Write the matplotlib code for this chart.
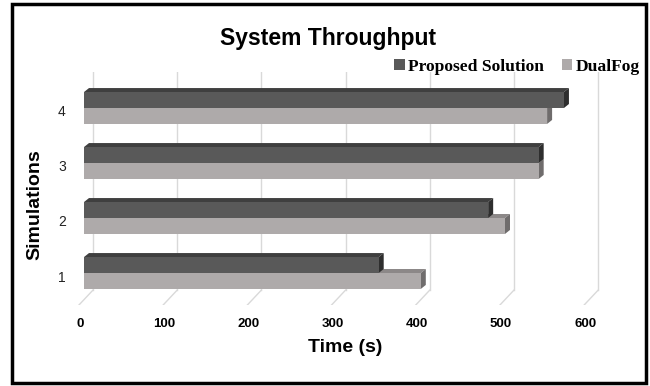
# -*- coding: utf-8 -*-

import numpy
import matplotlib
matplotlib.use('Agg')
import matplotlib.pyplot as plt
from matplotlib.patches import Polygon, Rectangle, Patch
from matplotlib.transforms import ScaledTranslation

# %% Dane
symulacje = [1, 2, 3, 4]
proposed = [350, 480, 540, 570]
dualfog = [400, 500, 540, 550]
ticki_x = [0, 100, 200, 300, 400, 500, 600]
etykiety = ['Proposed Solution', 'DualFog']

# kolory
c_ciemny = '#595959'
c_ciemny_gora = '#3f3f3f'
c_ciemny_bok = '#2e2e2e'
c_jasny = '#aeaaaa'
c_jasny_gora = '#8c8888'
c_jasny_bok = '#6f6c6c'
c_siatka = '#d9d9d9'

W, H = 650, 386
fig = plt.figure(figsize=(6.5, 3.86), dpi=100)

# skala osi: 0.842 px na jednostke czasu, 55 px na symulacje
sx, sy = 0.842, 55.0
xmin, xmax = -20, 640
ymin, ymax = 0.418, 4.655
left_px = 84 + xmin * sx
top_px = 108 - (ymax - 4) * sy
ax = fig.add_axes([left_px / W, 1 - (top_px + (ymax - ymin) * sy) / H,
                   (xmax - xmin) * sx / W, (ymax - ymin) * sy / H])
ax.set_xlim(xmin, xmax)
ax.set_ylim(ymin, ymax)
for s in ax.spines.values():
    s.set_visible(False)

# %% Siatka na tylnej scianie + linie podlogi
przes = 10.7        # przesuniecie tylnej sciany
podloga = 0.69
for t in ticki_x:
    ax.plot([t + przes, t + przes], [podloga, ymax], color=c_siatka, lw=1, zorder=0)
    ax.plot([t + przes, t - 6], [podloga, ymin], color=c_siatka, lw=1, zorder=0)

# %% Slupki 3D
h = 0.29
dx, dy = 5 / sx, 4 / sy

def slupek(y0, v, przod, gora, bok):
    ax.add_patch(Rectangle((0, y0), v, h, facecolor=przod, edgecolor='none', zorder=3))
    ax.add_patch(Polygon([(0, y0 + h), (v, y0 + h), (v + dx, y0 + h + dy), (dx, y0 + h + dy)],
                         closed=True, facecolor=gora, edgecolor='none', zorder=2))
    ax.add_patch(Polygon([(v, y0), (v + dx, y0 + dy), (v + dx, y0 + h + dy), (v, y0 + h)],
                         closed=True, facecolor=bok, edgecolor='none', zorder=2))

for y, p, d in zip(symulacje, proposed, dualfog):
    slupek(y - h, d, c_jasny, c_jasny_gora, c_jasny_bok)
    slupek(y, p, c_ciemny, c_ciemny_gora, c_ciemny_bok)

# %% Osie
ax.tick_params(length=0)
ax.set_xticks(ticki_x)
ax.set_xticklabels([str(t) for t in ticki_x], fontsize=9.5, fontweight='bold',
                   family='Liberation Sans')
ax.tick_params(axis='x', pad=9)
ax.set_yticks(symulacje)
ax.set_yticklabels([str(s) for s in symulacje], fontsize=10,
                   family='Liberation Sans', color='#222222')
ax.tick_params(axis='y', pad=1)
for lab in ax.get_xticklabels():
    lab.set_transform(lab.get_transform() + ScaledTranslation(-4 / 100, 0, fig.dpi_scale_trans))
for lab in ax.get_yticklabels():
    lab.set_transform(lab.get_transform() + ScaledTranslation(0, -3 / 100, fig.dpi_scale_trans))

fig.text(328 / W, 1 - 44.5 / H, 'System Throughput', ha='center', va='baseline',
         fontsize=16.5, fontweight='bold', family='Liberation Sans')
fig.text(35 / W, 1 - 205 / H, 'Simulations', ha='center', va='center', rotation=90,
         fontsize=14, fontweight='bold', family='Liberation Sans')
fig.text(345 / W, 1 - 348 / H, 'Time (s)', ha='center', va='center',
         fontsize=14, fontweight='bold', family='Liberation Sans')

# %% Legenda
uchwyty = [Patch(facecolor=c_ciemny), Patch(facecolor=c_jasny)]
fig.legend(uchwyty, etykiety, ncol=2, frameon=False, loc='center right',
           bbox_to_anchor=(640 / W, 1 - 67 / H), handlelength=0.6, handleheight=0.6,
           handletextpad=0.2, columnspacing=1.0, borderpad=0, borderaxespad=0,
           prop={'family': 'Liberation Serif', 'weight': 'bold', 'size': 12.6})

# %% Ramka
fig.patches.append(Rectangle((12 / W, 1 - 383 / H), 634 / W, 379 / H, transform=fig.transFigure,
                             fill=False, edgecolor='black', lw=2.5))

plt.savefig('out.png', dpi=100)
